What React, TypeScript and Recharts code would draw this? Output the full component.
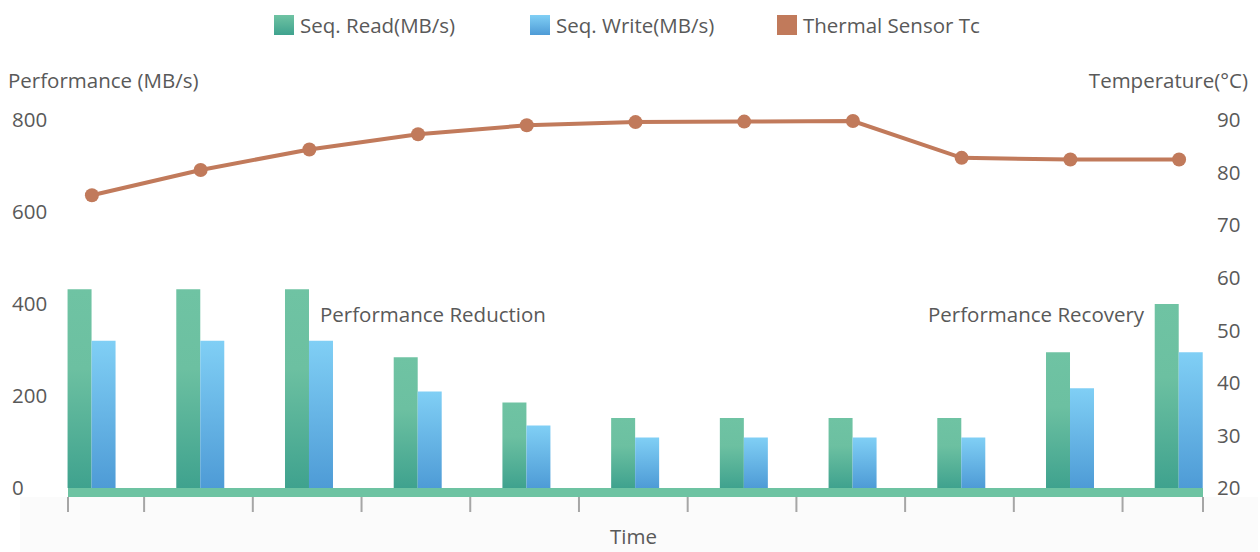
import React from 'react';
import { ComposedChart, Bar, Line, XAxis, YAxis } from 'recharts';

// sample points along the time axis (no labels are shown under the axis)
const samples = [0, 1, 2, 3, 4, 5, 6, 7, 8, 9, 10];
const seqRead = [432, 432, 432, 284, 186, 152, 152, 152, 152, 295, 400];
const seqWrite = [320, 320, 320, 210, 136, 110, 110, 110, 110, 217, 295];
const thermalTc = [75.7, 80.5, 84.4, 87.3, 89.0, 89.6, 89.7, 89.8, 82.8, 82.5, 82.5];

const perfTicks = [0, 200, 400, 600, 800];
const tempTicks = [20, 30, 40, 50, 60, 70, 80, 90];
// tick marks sit between the sample groups, plus both ends of the axis
const timeTicks = [-0.22, 0.48, 1.48, 2.48, 3.48, 4.48, 5.48, 6.48, 7.48, 8.48, 9.48, 10.22];

const data = samples.map((t, i) => ({
  t,
  read: seqRead[i],
  write: seqWrite[i],
  temp: thermalTc[i],
}));

const FONT = '"Open Sans", "Noto Sans", sans-serif';
const TEXT = '#595959';
const LINE = '#c17a5b';
const FS = 20.5;

const legendItems = [
  { name: 'Seq. Read(MB/s)', fill: 'linear-gradient(#6fc3a3, #3fa28e)', left: 274 },
  { name: 'Seq. Write(MB/s)', fill: 'linear-gradient(#80cff5, #4e9bd6)', left: 530 },
  { name: 'Thermal Sensor Tc', fill: LINE, left: 777 },
];

const textStyle: React.CSSProperties = {
  position: 'absolute',
  fontFamily: FONT,
  fontSize: FS,
  color: TEXT,
  lineHeight: '24px',
  whiteSpace: 'nowrap',
};

// grey tick mark drawn under the thick green axis strip
const TimeTick = (props: any) => {
  const { x, y } = props;
  return <line x1={x} x2={x} y1={y + 9} y2={y + 24} stroke="#a6a6a6" strokeWidth={2} />;
};

const App: React.FC = () => {
  return (
    <div style={{ position: 'absolute', left: 0, top: 0, width: 1260, height: 552, background: '#fff', overflow: 'hidden' }}>
      <div style={{ position: 'absolute', left: 20, top: 497, width: 1238, height: 55, background: '#fbfbfb' }} />

      {legendItems.map((item) => (
        <div key={item.name} style={{ ...textStyle, left: item.left, top: 13, display: 'flex', alignItems: 'center' }}>
          <span style={{ display: 'inline-block', width: 20, height: 20, background: item.fill, marginRight: 6 }} />
          {item.name}
        </div>
      ))}

      <div style={{ ...textStyle, left: 8, top: 68 }}>Performance (MB/s)</div>
      <div style={{ ...textStyle, right: 12, top: 68 }}>Temperature(°C)</div>
      <div style={{ ...textStyle, left: 320, top: 302 }}>Performance Reduction</div>
      <div style={{ ...textStyle, left: 928, top: 302 }}>Performance Recovery</div>
      <div style={{ ...textStyle, left: 610, top: 526, lineHeight: '20px' }}>Time</div>

      <div style={{ position: 'absolute', left: 0, top: 0 }}>
        <ComposedChart
          width={1260}
          height={552}
          data={data}
          margin={{ top: 120, right: 7, bottom: 0, left: 8 }}
          barGap={0}
        >
          <defs>
            <linearGradient id="readFill" x1="0" y1="0" x2="0" y2="1">
              <stop offset="0%" stopColor="#6fc3a3" />
              <stop offset="40%" stopColor="#6cc0a1" />
              <stop offset="100%" stopColor="#3fa28e" />
            </linearGradient>
            <linearGradient id="writeFill" x1="0" y1="0" x2="0" y2="1">
              <stop offset="0%" stopColor="#80cff5" />
              <stop offset="100%" stopColor="#4e9bd6" />
            </linearGradient>
          </defs>
          <XAxis
            dataKey="t"
            type="number"
            domain={[-0.22, 10.22]}
            ticks={timeTicks}
            interval={0}
            height={64}
            tick={<TimeTick />}
            tickSize={0}
            tickMargin={0}
            tickLine={false}
            axisLine={{ stroke: '#6dc3a2', strokeWidth: 9, transform: 'translate(0,4.5)' }}
          />
          <YAxis
            yAxisId="perf"
            width={60}
            domain={[0, 800]}
            ticks={perfTicks}
            axisLine={false}
            tickLine={false}
            tickSize={0}
            tickMargin={56}
            tick={{ fill: TEXT, fontSize: FS, fontFamily: FONT, textAnchor: 'start' }}
          />
          <YAxis
            yAxisId="temp"
            orientation="right"
            width={50}
            domain={[20, 90]}
            ticks={tempTicks}
            axisLine={false}
            tickLine={false}
            tickSize={0}
            tickMargin={14}
            tick={{ fill: TEXT, fontSize: FS, fontFamily: FONT }}
          />
          <Bar yAxisId="perf" dataKey="read" name="Seq. Read(MB/s)" barSize={24} fill="url(#readFill)" isAnimationActive={false} />
          <Bar yAxisId="perf" dataKey="write" name="Seq. Write(MB/s)" barSize={24} fill="url(#writeFill)" isAnimationActive={false} />
          <Line
            yAxisId="temp"
            dataKey="temp"
            name="Thermal Sensor Tc"
            stroke={LINE}
            strokeWidth={4}
            dot={{ r: 7, fill: LINE, stroke: 'none' }}
            activeDot={false}
            isAnimationActive={false}
          />
        </ComposedChart>
      </div>
    </div>
  );
};

export default App;
